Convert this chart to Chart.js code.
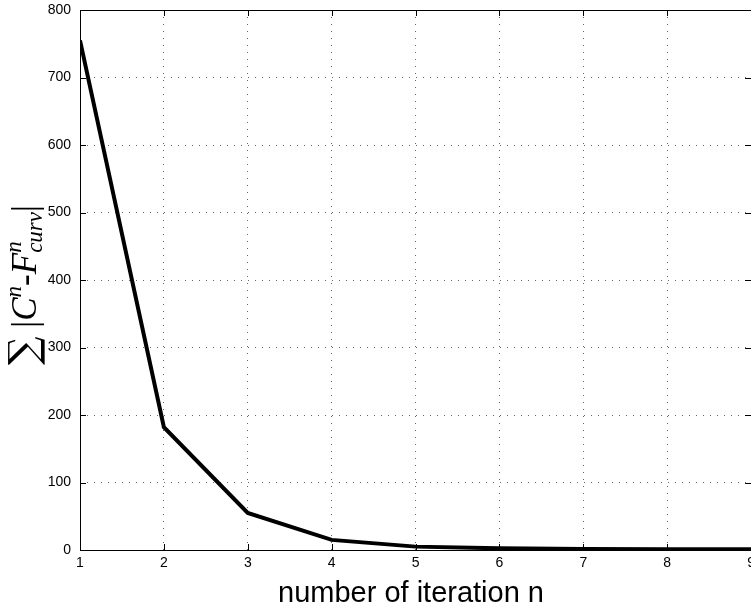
<!DOCTYPE html>
<html>
<head>
<meta charset="utf-8">
<script src="https://cdn.jsdelivr.net/npm/chart.js@4"></script>
<style>
  html, body { margin: 0; padding: 0; background: #fff; overflow: hidden; }
  #wrap { width: 760px; height: 606px; }
</style>
</head>
<body>
<div id="wrap"><canvas id="chart" width="760" height="606"></canvas></div>
<script>
'use strict';

// iteration number n and the summed error at each step
const iterations = [1, 2, 3, 4, 5, 6, 7, 8, 9];
const errorSum = [755, 182, 55, 15, 5, 2.5, 1.5, 1, 1];
const xTicks = [1, 2, 3, 4, 5, 6, 7, 8, 9];
const yTicks = [0, 100, 200, 300, 400, 500, 600, 700, 800];

const xTitle = 'number of iteration n';

const tickFont = { family: 'Liberation Sans, Arial, sans-serif', size: 14 };

// matlab-ish frame, inward ticks and the two axis titles
const framePlugin = {
    id: 'frame',
    afterDraw(chart) {
        const ctx = chart.ctx;
        const area = chart.chartArea;
        const xs = chart.scales.x;
        const ys = chart.scales.y;
        ctx.save();
        ctx.strokeStyle = '#000';
        ctx.lineWidth = 1;
        ctx.strokeRect(area.left + 0.5, area.top + 0.5, area.right - area.left, area.bottom - area.top);

        ctx.beginPath();
        xTicks.forEach(v => {
            const px = Math.round(xs.getPixelForValue(v)) + 0.5;
            ctx.moveTo(px, area.bottom);
            ctx.lineTo(px, area.bottom - 6);
            ctx.moveTo(px, area.top);
            ctx.lineTo(px, area.top + 6);
        });
        yTicks.forEach(v => {
            const py = Math.round(ys.getPixelForValue(v)) + 0.5;
            ctx.moveTo(area.left, py);
            ctx.lineTo(area.left + 6, py);
            ctx.moveTo(area.right, py);
            ctx.lineTo(area.right - 6, py);
        });
        ctx.stroke();

        // x title
        ctx.fillStyle = '#000';
        ctx.font = '29px "Liberation Sans", Arial, sans-serif';
        ctx.textAlign = 'center';
        ctx.textBaseline = 'alphabetic';
        ctx.fillText(xTitle, 411, 602);

        // y title: sum |C^n - F^n_curv|, rotated
        ctx.translate(36, 285);
        ctx.rotate(-Math.PI / 2);
        const it = 'italic 35px "Liberation Serif", "DejaVu Serif", serif';
        const rm = '35px "Liberation Serif", "DejaVu Serif", serif';
        const sumF = '40px "DejaVu Serif", serif';
        const supF = 'italic 23px "Liberation Serif", "DejaVu Serif", serif';
        const subF = 'italic 23px "Liberation Serif", "DejaVu Serif", serif';
        const parts = [
            { t: '\u2211', f: sumF, dy: 1 },
            { t: ' ', f: rm, dy: 0 },
            { t: '|', f: rm, dy: 0 },
            { t: 'C', f: it, dy: 0 },
            { t: 'n', f: supF, dy: -15 },
            { t: '-', f: rm, dy: 0 },
            { t: 'F', f: it, dy: 0 },
            { t: 'n', f: supF, dy: -15, stack: { t: 'curv', f: subF, dy: 6 } },
            { t: '|', f: rm, dy: 0 }
        ];
        let total = 0;
        parts.forEach(p => {
            ctx.font = p.f;
            let w = ctx.measureText(p.t).width;
            if (p.stack) {
                ctx.font = p.stack.f;
                w = Math.max(w, ctx.measureText(p.stack.t).width);
            }
            p.w = w;
            total += w;
        });
        ctx.textAlign = 'left';
        let x = -total / 2;
        parts.forEach(p => {
            ctx.font = p.f;
            ctx.fillText(p.t, x, p.dy);
            if (p.stack) {
                ctx.font = p.stack.f;
                ctx.fillText(p.stack.t, x, p.stack.dy);
            }
            x += p.w;
        });
        ctx.restore();
    }
};

new Chart(document.getElementById('chart'), {
    type: 'line',
    data: {
        labels: iterations,
        datasets: [{
            data: iterations.map((n, i) => ({ x: n, y: errorSum[i] })),
            borderColor: '#000',
            borderWidth: 4,
            pointRadius: 0,
            tension: 0,
            fill: false
        }]
    },
    options: {
        responsive: false,
        animation: false,
        layout: { padding: { top: 10, right: 7, left: 0, bottom: 0 } },
        plugins: {
            legend: { display: false },
            tooltip: { enabled: false }
        },
        scales: {
            x: {
                type: 'linear',
                min: 1,
                max: 9,
                afterBuildTicks: axis => { axis.ticks = xTicks.map(v => ({ value: v })); },
                afterFit: axis => { axis.height = 56; },
                grid: { color: '#666', lineWidth: 1, drawTicks: false },
                border: { display: false, dash: [1, 6] },
                ticks: { color: '#000', font: tickFont, padding: 5 }
            },
            y: {
                min: 0,
                max: 800,
                afterBuildTicks: axis => { axis.ticks = yTicks.map(v => ({ value: v })); },
                afterFit: axis => {
                    axis.width = 80;
                    axis.paddingTop = 0;
                    axis.paddingBottom = 0;
                },
                grid: { color: '#666', lineWidth: 1, drawTicks: false },
                border: { display: false, dash: [1, 6] },
                ticks: { color: '#000', font: tickFont, padding: 9 }
            }
        }
    },
    plugins: [framePlugin]
});
</script>
</body>
</html>
